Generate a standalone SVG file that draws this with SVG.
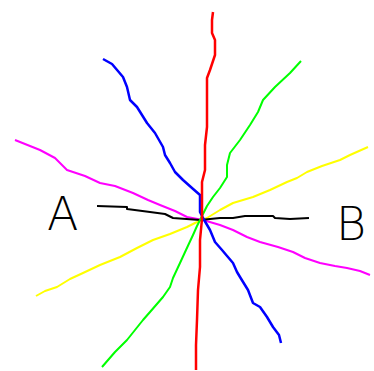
<svg xmlns="http://www.w3.org/2000/svg" width="374" height="371" viewBox="0 0 374 371">
<style>
.ln{fill:none;stroke-linejoin:round;stroke-linecap:butt}
.lbl{font-family:"DejaVu Sans","Liberation Sans",sans-serif;font-weight:200;fill:#000}
</style>
<rect width="374" height="371" fill="#fff"/>
<g id="lines">
<polyline id="magenta" class="ln" stroke="#ff00ff" stroke-width="2" points="15,140 40,150 55,158 67,170 85,176 100,183 115,186 133,193 148,200 160,205 175,211 187,217 203,220 220,225 233,230 247,237 260,242 278,247 293,252 305,258 320,263 335,266 347,268 360,271 370,275"/>
<polyline id="yellow" class="ln" stroke="#ffff00" stroke-width="2" points="368,147 350,155 340,160 322,166 307,172 297,178 287,182 270,190 253,197 243,200 233,203 220,210 207,218 195,223 187,227 170,234 153,240 137,248 120,257 100,265 83,273 70,279 57,287 45,291 36,296"/>
<polyline id="black" class="ln" stroke="#000000" stroke-width="2" points="97,206 127,207 127,209 150,212 165,214 173,218 200,220 220,218 233,218 245,216 273,216 275,218 290,219 309,218"/>
<polyline id="green" class="ln" stroke="#00ff00" stroke-width="2" points="301,61 290,73 275,87 263,100 258,112 250,125 240,140 230,153 227,165 227,177 220,188 213,197 207,206 203,214 197,226 193,235 186,250 180,263 173,278 170,287 163,297 150,312 143,320 135,330 127,340 115,352 102,367"/>
<polyline id="blue" class="ln" stroke="#0000ff" stroke-width="2.5" points="103,59 112,64 123,77 127,87 130,100 137,107 147,123 155,133 163,147 165,155 170,163 175,172 183,180 192,188 200,195 200,212 203,218 210,230 215,242 222,250 233,263 237,272 240,277 248,290 253,303 260,307 267,317 273,327 279,335 281,343"/>
<polyline id="red" class="ln" stroke="#ff0000" stroke-width="2.5" points="213,12 212,20 212,33 215,40 215,55 212,64 210,70 207,78 207,90 207,127 205,145 205,170 202,182 202,219 200,240 200,267 198,290 197,320 196,345 196,370"/>
</g>
<g id="labels">
<text class="lbl" x="47" y="230" font-size="46">A</text>
<text class="lbl" x="336" y="240" font-size="46">B</text>
</g>
</svg>
